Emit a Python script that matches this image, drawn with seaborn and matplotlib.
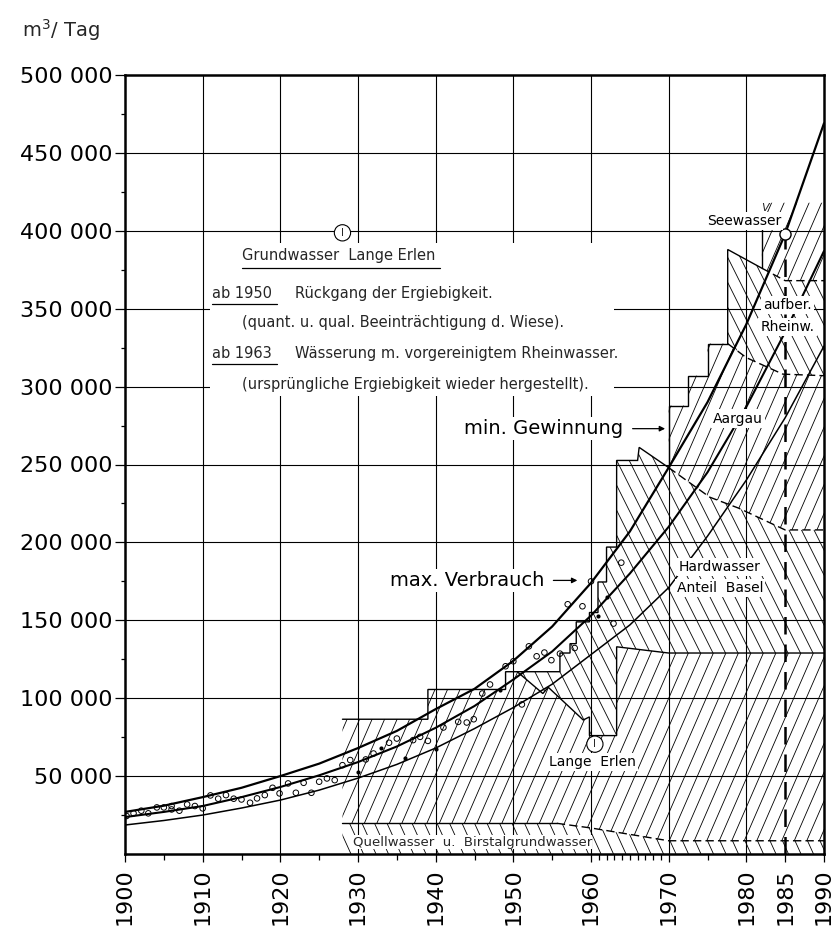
"""
Wasserbedarf Basel - Verbrauch und Gewinnung 1900-1990
"""

import numpy as np
import matplotlib
matplotlib.use('Agg')
import matplotlib.pyplot as plt
import seaborn as sns
from matplotlib.patches import Polygon, Rectangle
from matplotlib.collections import LineCollection

curve_years = list(range(1900, 1991, 5))
max_verbrauch = [27000, 31000, 36500, 42500, 50000, 58000, 68000, 79000, 93000, 106000,
                 124000, 146000, 174000, 207000, 248000, 290000, 340000, 398000, 469000]
mittel = [23700, 27000, 30800, 36500, 43000, 50500, 59000, 69000, 81000, 95000,
          112000, 130000, 153000, 180000, 210000, 245000, 287000, 335000, 387000]
unten = [18600, 21500, 25000, 29500, 34600, 41000, 48700, 57500, 68000, 80500,
         94000, 109000, 128000, 147000, 171000, 204000, 240000, 280000, 326000]

# Messpunkte (offene Kreise)
pt_years = [1900.2, 1901.1, 1902.1, 1903.0, 1904.1, 1905.0, 1906.0, 1906.0, 1907.0, 1908.0,
            1909.0, 1910.0, 1911.0, 1912.0, 1913.0, 1914.0, 1915.0, 1916.1, 1917.0, 1918.0,
            1919.0, 1919.9, 1921.0, 1922.0, 1923.0, 1924.0, 1925.0, 1926.0, 1927.0, 1928.0,
            1929.0, 1931.0, 1932.0, 1934.0, 1935.0, 1937.1, 1938.0, 1939.0, 1941.0, 1942.9,
            1944.0, 1944.9, 1946.0, 1947.0, 1949.0, 1950.0, 1951.1, 1952.0, 1953.0, 1954.0,
            1954.9, 1956.0, 1957.0, 1957.9, 1958.9, 1960.0, 1962.9, 1963.9]
pt_vals = [24400, 26100, 27800, 26100, 29900, 29900, 30800, 28600, 27800, 31800,
           30800, 29300, 37600, 35500, 37800, 35500, 35000, 32900, 35700, 37800,
           42500, 38900, 45300, 39300, 45700, 39300, 46400, 48500, 47400, 57000,
           60300, 60700, 64500, 71400, 74100, 73100, 75200, 72600, 81200, 84800,
           84400, 86500, 103000, 108800, 120500, 123700, 96000, 133300, 126900, 129300,
           124400, 128600, 160300, 132200, 159000, 175000, 147900, 187000]
# Messpunkte (gefuellt)
dot_years = [1930.0, 1933.0, 1936.0, 1940.1, 1948.3, 1960.9, 1962.0]
dot_vals = [52800, 68100, 61300, 67700, 105000, 152600, 165000]

# Gewinnungsanteile (Grenzlinien)
quell_x = [1928, 1955.6, 1960, 1970, 1990]
quell_y = [19700, 19700, 16700, 8500, 8500]

lange_x = [1928, 1939, 1939, 1949, 1949, 1950.5, 1953.8, 1954.5, 1959, 1959.8, 1959.8,
           1963.3, 1963.3, 1970, 1990]
lange_y = [86500, 86500, 105600, 105600, 117000, 117000, 103000, 107000, 86000, 88000, 76000,
           76000, 133000, 129000, 129000]

hard_x = [1950.5, 1956, 1956, 1957.3, 1957.3, 1958.1, 1958.1, 1959.8, 1959.8, 1960.9, 1960.9,
          1962, 1962, 1963.3, 1963.3, 1966, 1966.2, 1970, 1975.3, 1979, 1985, 1990]
hard_y = [117000, 117000, 129000, 129000, 135000, 135000, 149000, 149000, 155000, 155000, 174600,
          174600, 197000, 197000, 252600, 252600, 261000, 248000, 229000, 222000, 208000, 208000]

aargau_x = [1970, 1970, 1972.5, 1972.5, 1975, 1975, 1977.6, 1980, 1984.7, 1990]
aargau_y = [248000, 287800, 287800, 307000, 307000, 327600, 327600, 318600, 308000, 307000]

rhein_x = [1977.6, 1977.6, 1982, 1985, 1990]
rhein_y = [327600, 388000, 376000, 368000, 368000]

see_x = [1982, 1990]
see_y = [418000, 418000]

x_major = [1900, 1910, 1920, 1930, 1940, 1950, 1960, 1970, 1980, 1985, 1990]
x_minor = [1905, 1915, 1925, 1935, 1945, 1955, 1961, 1962, 1963, 1964, 1965, 1966, 1967,
           1968, 1969, 1975]
y_major = list(range(50000, 500001, 50000))
y_minor = list(range(25000, 500000, 50000))
x_grid = [1910, 1920, 1930, 1940, 1950, 1960, 1970, 1980]
y_grid = list(range(50000, 450001, 50000))

sns.set_theme(style='ticks')
plt.rcParams['font.family'] = ['DejaVu Sans']
plt.rcParams['mathtext.fontset'] = 'dejavusans'

FIG_W, FIG_H = 834, 933
AX_L, AX_B, AX_W, AX_H = 125, 79, 699, 779

fig = plt.figure(figsize=(FIG_W / 100, FIG_H / 100), dpi=100)
ax = fig.add_axes([AX_L / FIG_W, AX_B / FIG_H, AX_W / FIG_W, AX_H / FIG_H])
ax.set_facecolor('white')
fig.patch.set_facecolor('white')


def part(xs, ys, lo, hi):
    """vertices of a boundary between two years"""
    sel = [(x, y) for x, y in zip(xs, ys) if lo <= x <= hi]
    return [p[0] for p in sel], [p[1] for p in sel]


def hatch(xt, yt, xb, yb, slope, gap=12.5, lw=0.6):
    """steep hatching clipped to the region between two boundaries"""
    verts = list(zip(xt, yt)) + list(zip(xb[::-1], yb[::-1]))
    poly = Polygon(verts, closed=True, fc='none', ec='none')
    ax.add_patch(poly)
    sx = 90 / AX_W
    rise = AX_H / abs(slope)
    segs = []
    for p0 in np.arange(-AX_W, 2 * AX_W, gap):
        p1 = p0 + rise if slope > 0 else p0 - rise
        segs.append([(1900 + p0 * sx, 0), (1900 + p1 * sx, 500000)])
    lc = LineCollection(segs, colors='black', linewidths=lw, zorder=2)
    ax.add_collection(lc, autolim=False)
    lc.set_clip_path(poly)


# Gitter
for yr in x_grid:
    ax.axvline(yr, color='black', lw=0.8, zorder=1)
for v in y_grid:
    ax.axhline(v, color='black', lw=0.8, zorder=1)
ax.add_patch(Rectangle((1911, 294000), 52, 98000, fc='white', ec='none', zorder=1.5))

# Schraffierte Flaechen
hatch(quell_x, quell_y, [1928, 1990], [0, 0], slope=-2.2)
hatch(lange_x, lange_y, quell_x, quell_y, slope=2.3)
lx, ly = part(lange_x, lange_y, 1950.5, 1990)
hatch(hard_x, hard_y, lx, ly, slope=-2.0)
hx, hy = part(hard_x, hard_y, 1970, 1990)
hx, hy = hx[1:], hy[1:]
hatch(aargau_x, aargau_y, [1970] + hx, [248000] + hy, slope=2.3)
ax_, ay_ = part(aargau_x, aargau_y, 1977.6, 1990)
hatch(rhein_x, rhein_y, ax_[1:], ay_[1:], slope=-2.0)
rx, ry = part(rhein_x, rhein_y, 1982, 1990)
hatch(see_x, see_y, rx, ry, slope=2.3)

# Grenzlinien
def boundary(xs, ys, split, lw=1.0):
    sx_, sy_ = part(xs, ys, xs[0], split)
    ax.plot(sx_, sy_, color='black', lw=lw, zorder=3, solid_joinstyle='miter')
    dx_, dy_ = part(xs, ys, split, xs[-1])
    ax.plot(dx_, dy_, color='black', lw=lw, ls=(0, (6, 3)), zorder=3)


boundary(quell_x, quell_y, 1955.6)
boundary(lange_x, lange_y, 1990)
boundary(hard_x, hard_y, 1970)
boundary(aargau_x, aargau_y, 1977.6)
boundary(rhein_x, rhein_y, 1982)
ax.plot([1982, 1982], [rhein_y[2], 402000], color='black', lw=1.0, zorder=3)

# Verbrauchskurven
sns.lineplot(x=curve_years, y=max_verbrauch, ax=ax, color='black', lw=1.6, zorder=4)
sns.lineplot(x=curve_years, y=mittel, ax=ax, color='black', lw=1.5, zorder=4)
sns.lineplot(x=curve_years, y=unten, ax=ax, color='black', lw=1.1, zorder=4)

sns.scatterplot(x=pt_years, y=pt_vals, ax=ax, marker='o', s=16, facecolor='none',
                edgecolor='black', linewidth=0.7, zorder=5)
sns.scatterplot(x=dot_years, y=dot_vals, ax=ax, marker='o', s=9, color='black',
                linewidth=0, zorder=5)

# 1985 Linie mit Kreis
v1985 = max_verbrauch[curve_years.index(1985)]
ax.plot([1985, 1985], [0, v1985], color='black', lw=1.8, ls=(0, (7, 4)), zorder=3)
ax.plot([1985], [v1985], marker='o', ms=8, mfc='white', mec='black', mew=1.0, zorder=6)

# Beschriftungen
wbox = dict(fc='white', ec='none', pad=1.5)


def label(x, y, s, size=10, ha='center', **kw):
    ax.text(x, y, s, fontsize=size, ha=ha, va='center', color='black', bbox=wbox,
            zorder=6, **kw)


ax.text(1928, 398700, 'I', ha='center', va='center', fontsize=7.5, zorder=6,
        bbox=dict(boxstyle='circle,pad=0.3', fc='white', ec='black', lw=0.8))
ax.text(1960.5, 70500, 'I', ha='center', va='center', fontsize=7.5, zorder=6,
        bbox=dict(boxstyle='circle,pad=0.3', fc='white', ec='black', lw=0.8))

ax.text(1915.1, 384000, 'Grundwasser  Lange Erlen', fontsize=10.5, ha='left', va='center',
        zorder=6)
ax.plot([1915.1, 1940.6], [376000, 376000], color='black', lw=0.9, zorder=6)
ax.text(1911.2, 359600, 'ab 1950', fontsize=10.5, ha='left', va='center', zorder=6)
ax.plot([1911.2, 1919.6], [353000, 353000], color='black', lw=0.9, zorder=6)
ax.text(1921.9, 359600, 'Rückgang der Ergiebigkeit.', fontsize=10.5, ha='left',
        va='center', zorder=6)
ax.text(1915.1, 341000, '(quant. u. qual. Beeinträchtigung d. Wiese).', fontsize=10.5,
        ha='left', va='center', zorder=6)
ax.text(1911.2, 321000, 'ab 1963', fontsize=10.5, ha='left', va='center', zorder=6)
ax.plot([1911.2, 1919.6], [314700, 314700], color='black', lw=0.9, zorder=6)
ax.text(1921.9, 321000, 'Wässerung m. vorgereinigtem Rheinwasser.', fontsize=10.5,
        ha='left', va='center', zorder=6)
ax.text(1915.1, 301500, '(ursprüngliche Ergiebigkeit wieder hergestellt).', fontsize=10.5,
        ha='left', va='center', zorder=6)

label(1964.1, 273000, 'min. Gewinnung', size=14, ha='right')
ax.annotate('', xy=(1969.9, 273000), xytext=(1965.0, 273000), zorder=6,
            arrowprops=dict(arrowstyle='-|>', lw=0.9, color='black', mutation_scale=8))
label(1954.0, 175600, 'max. Verbrauch', size=14, ha='right')
ax.annotate('', xy=(1958.6, 175600), xytext=(1954.8, 175600), zorder=6,
            arrowprops=dict(arrowstyle='-|>', lw=0.9, color='black', mutation_scale=8))

label(1960.2, 59000, 'Lange  Erlen')
ax.text(1929.3, 7700, 'Quellwasser  u.  Birstalgrundwasser', fontsize=9.5, ha='left',
        va='center', zorder=6, bbox=dict(fc='white', ec='none', pad=0.5))
label(1976.6, 184000, 'Hardwasser')
label(1976.6, 170500, 'Anteil  Basel')
label(1978.9, 279500, 'Aargau')
label(1985.3, 352500, 'aufber.')
label(1985.3, 338500, 'Rheinw.')
label(1979.7, 406400, 'Seewasser')
ax.text(1982.4, 414500, 'V', fontsize=8, style='italic', ha='center', va='center', zorder=6)

fig.text(22 / FIG_W, 1 - 30 / FIG_H, r'm$^3$/ Tag', fontsize=14, ha='left', va='center')

# Achsen
ax.set_xlim(1900, 1990)
ax.set_ylim(0, 500000)
ax.set_xticks(x_major)
ax.set_xticklabels([str(y) for y in x_major], rotation=90)
ax.set_xticks(x_minor, minor=True)
ax.set_yticks(y_major)
ax.set_yticklabels([f'{v:,}'.replace(',', ' ') for v in y_major])
ax.set_yticks(y_minor, minor=True)
ax.set_xlabel('')
ax.set_ylabel('')
ax.grid(False)
ax.tick_params(which='both', direction='out', color='black', width=0.9, labelcolor='black',
               bottom=True, left=True)
ax.tick_params(axis='x', which='major', length=6, pad=4, labelsize=16)
ax.tick_params(axis='x', which='minor', length=4)
ax.tick_params(axis='y', which='major', length=7, pad=2, labelsize=16)
ax.tick_params(axis='y', which='minor', length=3)
for sp in ax.spines.values():
    sp.set_visible(True)
    sp.set_linewidth(1.8)
    sp.set_color('black')
    sp.set_zorder(7)

fig.savefig('out.png', dpi=100, facecolor='white')
